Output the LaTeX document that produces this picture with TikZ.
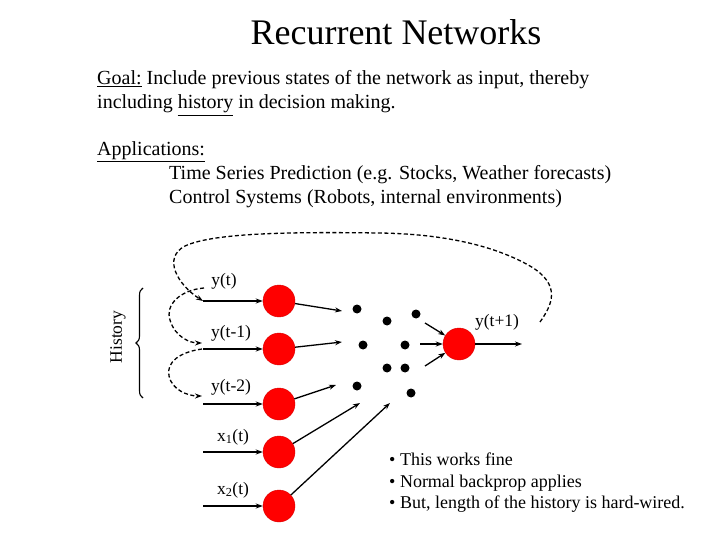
\documentclass[tikz,border=0pt]{standalone}
\usepackage{fontspec}
\setmainfont{Liberation Serif}
\usetikzlibrary{arrows.meta,decorations.pathreplacing}
\begin{document}
\begin{tikzpicture}[x=1pt,y=-1pt,
  neuron/.style={circle,fill=red,draw=red!85!black,line width=0.4pt,minimum size=32pt,inner sep=0pt},
  blob/.style={circle,fill=black,minimum size=9pt,inner sep=0pt},
  arr/.style={line width=1.3pt,-{Stealth[length=7pt,width=5pt]}},
  dsh/.style={line width=1.3pt,dash pattern=on 4pt off 2.5pt,-{Stealth[length=7pt,width=5pt]}},
  lbl/.style={font=\fontsize{17.5}{20}\selectfont,inner sep=0pt},
  body/.style={font=\fontsize{20}{24}\selectfont,anchor=base west,inner sep=0pt}]
\path[use as bounding box] (0,0) rectangle (720,540);
% texts
\node[font=\fontsize{36}{40}\selectfont] (title) at (396,32) {Recurrent Networks};
\node[body] (goal1) at (97,85) {\underline{Goal:} Include previous states of the network as input, thereby};
\node[body] (goal2) at (97,109) {including \underline{history} in decision making.};
\node[body] (app) at (97,156) {\underline{Applications:}};
\node[body] (app1) at (169,180) {Time Series Prediction (e.g. Stocks, Weather forecasts)};
\node[body] (app2) at (169,204) {Control Systems (Robots, internal environments)};
% neurons
\node[neuron] (n1) at (279,301) {};
\node[neuron] (n2) at (279,349) {};
\node[neuron] (n3) at (279,404) {};
\node[neuron] (n4) at (279,452) {};
\node[neuron] (n5) at (279,506) {};
\node[neuron] (out) at (459,344) {};
% input starts
\coordinate (i1) at (203,301);
\coordinate (i2) at (203,349);
\coordinate (i3) at (203,404);
\coordinate (i4) at (203,452);
\coordinate (i5) at (203,506);
\foreach \k in {1,...,5} {\draw[arr] (i\k) -- (n\k.west);}
% labels
\node[lbl] (l1) at (224,281) {y(t)};
\node[lbl] (l2) at (231,333) {y(t-1)};
\node[lbl] (l3) at (231,387) {y(t-2)};
\node[lbl] (l4) at (233,437) {x\textsubscript{1}(t)};
\node[lbl] (l5) at (233,490) {x\textsubscript{2}(t)};
\node[lbl] (lo) at (497,322) {y(t+1)};
% hidden dots
\node[blob] (d1) at (357,309) {};
\node[blob] (d2) at (387,321) {};
\node[blob] (d3) at (416,314) {};
\node[blob] (d4) at (363,345) {};
\node[blob] (d5) at (405,345) {};
\node[blob] (d6) at (387,368) {};
\node[blob] (d7) at (405,368) {};
\node[blob] (d8) at (357,386) {};
\node[blob] (d9) at (411,393) {};
% arrows to hidden
\coordinate (h1) at (342,311);
\coordinate (h2) at (342,342);
\coordinate (h3) at (336,385);
\coordinate (h4) at (360,403);
\coordinate (h5) at (390,403);
\foreach \k in {1,...,5} {\draw[arr] (n\k) -- (h\k);}
% arrows into output
\coordinate (o1) at (425,323);
\coordinate (o2) at (420,344);
\coordinate (o3) at (425,366);
\foreach \k in {1,2,3} {\draw[arr] (o\k) -- (out);}
\coordinate (oend) at (522,344);
\draw[arr] (out) -- (oend);
% recurrent dashed loops
\coordinate (ls) at (540,322);
\draw[dsh] (ls) .. controls (552,305) and (562,285) .. (530,266)
  .. controls (495,246) and (445,234) .. (380,233)
  .. controls (300,232) and (215,232) .. (185,246)
  .. controls (162,258) and (178,285) .. (i1);
\coordinate (c2) at (204,288);
\coordinate (c2e) at (202,343);
\draw[dsh] (c2) .. controls (180,290) and (165,305) .. (170,320)
  .. controls (175,337) and (190,343) .. (c2e);
\coordinate (c3) at (202,349);
\coordinate (c3e) at (202,396);
\draw[dsh] (c3) .. controls (180,352) and (166,362) .. (169,376)
  .. controls (172,390) and (188,396) .. (c3e);
% history brace
\coordinate (bb) at (143,398);
\coordinate (bt) at (143,288);
\draw[line width=1.1pt,decorate,decoration={brace,amplitude=7pt}] (bb) -- (bt);
\node[lbl,rotate=90] (hist) at (118,337) {History};
% notes
\node[font=\fontsize{18}{21.5}\selectfont,anchor=north west,align=left,inner sep=0pt] (notes) at (389,453)
  {• This works fine\\ • Normal backprop applies\\ • But, length of the history is hard-wired.};
\end{tikzpicture}
\end{document}
